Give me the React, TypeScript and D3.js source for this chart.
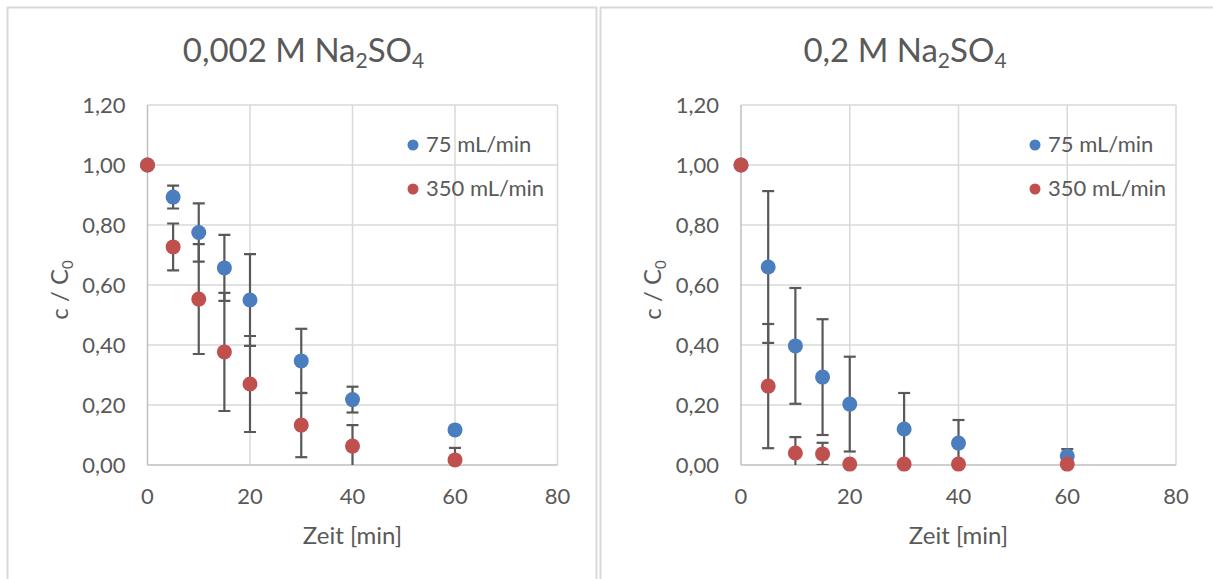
import React, { useRef, useEffect } from 'react';
import * as d3 from 'd3';

// sampling times [min]
const times = [0, 5, 10, 15, 20, 30, 40, 60];

// 0,002 M Na2SO4
const lowFlow75 = [1.0, 0.893, 0.775, 0.657, 0.55, 0.347, 0.218, 0.117];
const lowFlow75Err = [0, 0.038, 0.097, 0.11, 0.153, 0.107, 0.043, 0];
const lowFlow350 = [1.0, 0.727, 0.553, 0.377, 0.27, 0.133, 0.063, 0.017];
const lowFlow350Err = [0, 0.078, 0.183, 0.197, 0.16, 0.107, 0.07, 0.04];

// 0,2 M Na2SO4
const highFlow75 = [1.0, 0.66, 0.397, 0.293, 0.203, 0.12, 0.073, 0.03];
const highFlow75Err = [0, 0.253, 0.193, 0.193, 0.158, 0.12, 0.077, 0.023];
const highFlow350 = [1.0, 0.263, 0.04, 0.037, 0.003, 0.003, 0.003, 0.003];
const highFlow350Err = [0, 0.207, 0.053, 0.037, 0, 0, 0, 0];

const xTicks = [0, 20, 40, 60, 80];
const yTicks = [0, 0.2, 0.4, 0.6, 0.8, 1.0, 1.2];
const seriesNames = ['75 mL/min', '350 mL/min'];
const seriesColors = ['#4A7EBF', '#C0504D'];

const FONT = 'Lato, "Open Sans", sans-serif';
const TEXT = '#595959';

const fmt = (v: number) => v.toFixed(2).replace('.', ',');

const App = () => {
  const svgRef = useRef<SVGSVGElement>(null);

  useEffect(() => {
    const svg = d3.select(svgRef.current);
    svg.selectAll('*').remove();

    svg.append('rect').attr('width', 1213).attr('height', 579).attr('fill', 'white');

    // chart frames
    svg.append('rect').attr('x', 7.5).attr('y', 7.5).attr('width', 589).attr('height', 600)
      .attr('fill', 'none').attr('stroke', '#D9D9D9').attr('stroke-width', 2);
    svg.append('rect').attr('x', 600.5).attr('y', 7.5).attr('width', 640).attr('height', 600)
      .attr('fill', 'none').attr('stroke', '#D9D9D9').attr('stroke-width', 2);

    const panels = [
      { id: 'a', titleMain: '0,002 M Na', titleX: 303.5, left: 147.5, right: 557.5,
        series: [[lowFlow75, lowFlow75Err], [lowFlow350, lowFlow350Err]], legendX: 413 },
      { id: 'b', titleMain: '0,2 M Na', titleX: 905, left: 741, right: 1176,
        series: [[highFlow75, highFlow75Err], [highFlow350, highFlow350Err]], legendX: 1035 },
    ];

    panels.forEach(p => {
      const x = d3.scaleLinear().domain([0, 80]).range([p.left, p.right]);
      const y = d3.scaleLinear().domain([0, 1.2]).range([465, 105]);
      const g = svg.append('g');

      // title
      const title = g.append('text')
        .attr('x', p.titleX).attr('y', 62)
        .attr('text-anchor', 'middle')
        .attr('font-family', FONT).attr('font-size', 33).attr('fill', TEXT);
      title.append('tspan').text(p.titleMain);
      title.append('tspan').text('2').attr('font-size', 21).attr('dy', 6);
      title.append('tspan').text('SO').attr('dy', -6);
      title.append('tspan').text('4').attr('font-size', 21).attr('dy', 6);

      // gridlines
      g.selectAll('.vgrid').data(xTicks.slice(1)).enter().append('line')
        .attr('x1', d => x(d)).attr('x2', d => x(d)).attr('y1', y(0)).attr('y2', y(1.2))
        .attr('stroke', '#D9D9D9').attr('stroke-width', 1.5);
      g.selectAll('.hgrid').data(yTicks.slice(1)).enter().append('line')
        .attr('x1', x(0)).attr('x2', x(80)).attr('y1', d => y(d)).attr('y2', d => y(d))
        .attr('stroke', '#D9D9D9').attr('stroke-width', 1.5);
      // axis lines
      g.append('line').attr('x1', x(0)).attr('x2', x(0)).attr('y1', y(0)).attr('y2', y(1.2))
        .attr('stroke', '#BFBFBF').attr('stroke-width', 1.5);
      g.append('line').attr('x1', x(0)).attr('x2', x(80)).attr('y1', y(0)).attr('y2', y(0))
        .attr('stroke', '#BFBFBF').attr('stroke-width', 1.5);

      // tick labels
      g.selectAll('.xlab').data(xTicks).enter().append('text')
        .attr('x', d => x(d)).attr('y', 504)
        .attr('text-anchor', 'middle')
        .attr('font-family', FONT).attr('font-size', 22).attr('fill', TEXT)
        .text(d => d);
      g.selectAll('.ylab').data(yTicks).enter().append('text')
        .attr('x', x(0) - 22).attr('y', d => y(d) + 8)
        .attr('text-anchor', 'end')
        .attr('font-family', FONT).attr('font-size', 22).attr('fill', TEXT)
        .text(d => fmt(d));

      // axis titles
      g.append('text')
        .attr('x', (x(0) + x(80)) / 2).attr('y', 544)
        .attr('text-anchor', 'middle')
        .attr('font-family', FONT).attr('font-size', 24).attr('fill', TEXT)
        .text('Zeit [min]');
      const yt = g.append('text')
        .attr('transform', `translate(${x(0) - 80},290) rotate(-90)`)
        .attr('text-anchor', 'middle')
        .attr('font-family', FONT).attr('font-size', 24).attr('fill', TEXT);
      yt.append('tspan').text('c / C');
      yt.append('tspan').text('0').attr('font-size', 15).attr('dy', 5);

      // clip for error bars
      const clipId = `clip-${p.id}`;
      svg.append('clipPath').attr('id', clipId).append('rect')
        .attr('x', x(0) - 10).attr('y', y(1.2)).attr('width', x(80) - x(0) + 20).attr('height', y(0) - y(1.2));

      // error bars
      p.series.forEach(([vals, errs]) => {
        const eb = g.append('g').attr('clip-path', `url(#${clipId})`)
          .attr('stroke', '#595959').attr('stroke-width', 2.2);
        times.forEach((t, i) => {
          const e = errs[i];
          if (!e) return;
          const cx = x(t);
          eb.append('line').attr('x1', cx).attr('x2', cx)
            .attr('y1', y(vals[i] - e)).attr('y2', y(vals[i] + e));
          [vals[i] - e, vals[i] + e].forEach(v => {
            eb.append('line').attr('x1', cx - 6).attr('x2', cx + 6)
              .attr('y1', y(v)).attr('y2', y(v));
          });
        });
      });

      // markers
      p.series.forEach(([vals], si) => {
        g.selectAll(`.m${si}`).data(times).enter().append('circle')
          .attr('cx', d => x(d)).attr('cy', (d, i) => y(vals[i]))
          .attr('r', 7.5).attr('fill', seriesColors[si]);
      });

      // legend
      seriesNames.forEach((name, si) => {
        const ly = 145 + si * 44;
        g.append('circle').attr('cx', p.legendX).attr('cy', ly).attr('r', 5.5).attr('fill', seriesColors[si]);
        g.append('text').attr('x', p.legendX + 13).attr('y', ly + 7)
          .attr('font-family', FONT).attr('font-size', 22).attr('fill', TEXT)
          .text(name);
      });
    });
  }, []);

  return <svg ref={svgRef} width={1213} height={579} style={{ position: 'absolute', left: 0, top: 0 }}></svg>;
};

export default App;
